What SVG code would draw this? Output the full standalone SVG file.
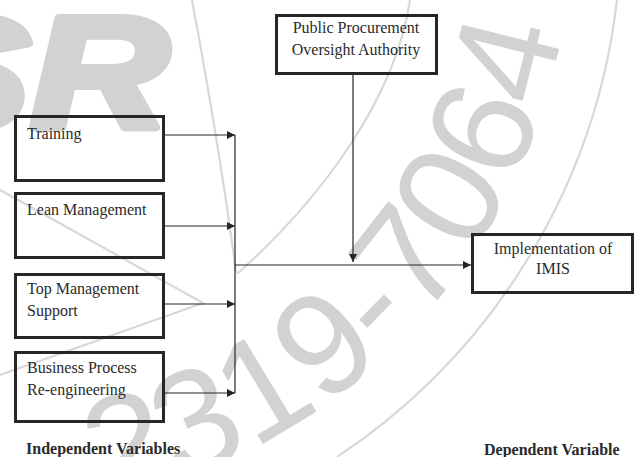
<svg xmlns="http://www.w3.org/2000/svg" width="639" height="457" viewBox="0 0 639 457">
  <style>
    .box { fill: none; stroke: #262626; stroke-width: 3; }
    .lbl { font-family: "Liberation Serif", "Times New Roman", serif; font-size: 16px; fill: #2a2a2a; }
    .bold { font-weight: bold; }
    .conn { stroke: #262626; stroke-width: 1.2; fill: none; }
    .wm { fill: #d2d2d2; }
    .wmline { stroke: #d8d8d8; stroke-width: 2.2; fill: none; }
  </style>
  <defs>
    <marker id="arrow" viewBox="0 0 10 10" refX="10" refY="5" markerWidth="8" markerHeight="8" markerUnits="userSpaceOnUse" orient="auto">
      <path d="M0,0 L10,5 L0,10 Z" fill="#262626"/>
    </marker>
    <path id="wmArc" d="M87.3,504.1 A586,586 0 0 0 571.5,-73"/>
  </defs>
  <rect width="639" height="457" fill="#ffffff"/>

  <g id="watermark">
    <text class="wm" transform="translate(169,128) scale(1.2,1)" text-anchor="end" font-family="Liberation Sans, Arial, sans-serif" font-weight="bold" font-style="italic" font-size="160" stroke="#d2d2d2" stroke-width="8" stroke-linejoin="round">SR</text>
    <text class="wm" font-family="Liberation Sans, Arial, sans-serif" font-size="145" letter-spacing="1" fill="#d5d5d5"><textPath href="#wmArc" startOffset="12">2319-7064</textPath></text>
    <path class="wmline" d="M192,0 Q220,150 236,272"/>
    <path class="wmline" d="M410,0 C395,100 320,200 237,274"/>
    <path class="wmline" d="M617,0 A636,636 0 0 1 337,457"/>
    <path class="wmline" d="M0,190 L203,303 L0,375"/>
  </g>

  <g id="connectors">
    <path class="conn" d="M165,135 H235" marker-end="url(#arrow)"/>
    <path class="conn" d="M165,226 H235" marker-end="url(#arrow)"/>
    <path class="conn" d="M165,304 H235" marker-end="url(#arrow)"/>
    <path class="conn" d="M165,393 H235" marker-end="url(#arrow)"/>
    <path class="conn" d="M235,135 V393"/>
    <path class="conn" d="M235,265 H471" marker-end="url(#arrow)"/>
    <path class="conn" d="M353,75 V262" marker-end="url(#arrow)"/>
  </g>

  <g id="training">
    <rect class="box" x="15.5" y="116.5" width="148" height="64"/>
    <text class="lbl" x="27" y="139">Training</text>
  </g>
  <g id="lean-management">
    <rect class="box" x="15.5" y="193.5" width="148" height="64"/>
    <text class="lbl" x="27" y="215">Lean Management</text>
  </g>
  <g id="top-management-support">
    <rect class="box" x="15.5" y="274.5" width="148" height="63"/>
    <text class="lbl" x="27" y="294">Top Management</text>
    <text class="lbl" x="27" y="316">Support</text>
  </g>
  <g id="business-process-reengineering">
    <rect class="box" x="15.5" y="352.5" width="148" height="69"/>
    <text class="lbl" x="27" y="373">Business Process</text>
    <text class="lbl" x="27" y="395">Re-engineering</text>
  </g>
  <g id="ppoa">
    <rect class="box" x="276.5" y="15.5" width="160" height="58"/>
    <text class="lbl" x="356" y="33" text-anchor="middle">Public Procurement</text>
    <text class="lbl" x="356" y="55" text-anchor="middle">Oversight Authority</text>
  </g>
  <g id="imis">
    <rect class="box" x="472.5" y="234.5" width="160" height="58"/>
    <text class="lbl" x="553" y="254" text-anchor="middle">Implementation of</text>
    <text class="lbl" x="553" y="274" text-anchor="middle">IMIS</text>
  </g>

  <g id="captions">
    <text class="lbl bold" x="26" y="454">Independent Variables</text>
    <text class="lbl bold" x="484" y="455">Dependent Variable</text>
  </g>
</svg>
